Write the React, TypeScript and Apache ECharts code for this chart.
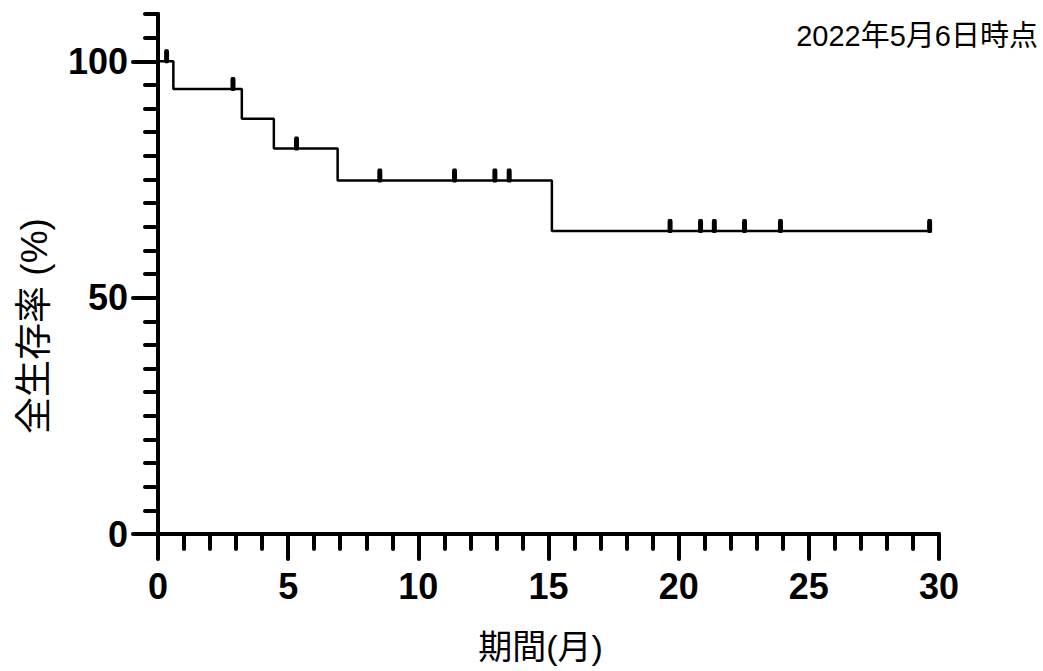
import React, { useEffect, useRef } from "react";
import * as echarts from "echarts";

// Kaplan–Meier step points: [months, survival %]
const stepTimes = [0, 0.59, 3.22, 4.45, 6.9, 15.13, 29.67];
const stepValues = [100, 94.12, 87.84, 81.57, 74.77, 64.09, 64.09];

// Censored observations
const censorTimes = [0.33, 2.88, 5.32, 8.52, 11.39, 12.94, 13.49, 19.67, 20.84, 21.37, 22.53, 23.91, 29.64];
const censorValues = [100, 94.12, 81.57, 74.77, 74.77, 74.77, 74.77, 64.09, 64.09, 64.09, 64.09, 64.09, 64.09];

const yMajorTicks = [0, 50, 100];
const xAxisTitle = "期間(月)";
const yAxisTitle = "全生存率 (%)";
const noteText = "2022年5月6日時点";

const FONT = "'Liberation Sans', Arial, 'Noto Sans CJK JP', sans-serif";

export default function App() {
  const ref = useRef<HTMLDivElement>(null);
  useEffect(() => {
    if (!ref.current) return;
    const chart = echarts.init(ref.current, undefined, { renderer: "svg" });
    const black = "#000";
    chart.setOption({
      animation: false,
      backgroundColor: "#fff",
      grid: { left: 158, right: 104, top: 14, bottom: 137, containLabel: false },
      graphic: [
        {
          type: "text",
          right: 5,
          top: 21,
          style: { text: noteText, font: `29px ${FONT}`, fill: black },
        },
        {
          type: "text",
          x: 34,
          y: 326,
          rotation: Math.PI / 2,
          style: {
            text: yAxisTitle,
            font: `37px ${FONT}`,
            fill: black,
            textAlign: "center",
            textVerticalAlign: "middle",
          },
        },
      ],
      xAxis: [
        {
          type: "value",
          min: 0,
          max: 30,
          interval: 5,
          name: xAxisTitle,
          nameLocation: "middle",
          nameGap: 96,
          nameTextStyle: { fontSize: 34, fontFamily: FONT, color: black, padding: [0, 16, 0, 0] },
          axisLine: { show: true, onZero: false, lineStyle: { color: black, width: 4, cap: "round" } },
          axisTick: { show: true, length: 25, lineStyle: { color: black, width: 4, cap: "round" } },
          minorTick: { show: true, splitNumber: 5, length: 15, lineStyle: { color: black, width: 4, cap: "round" } },
          axisLabel: { margin: 34, fontSize: 36, fontWeight: "bold", fontFamily: FONT, color: black },
          splitLine: { show: false },
          minorSplitLine: { show: false },
        },
      ],
      yAxis: [
        {
          type: "value",
          min: 0,
          max: 110,
          interval: 5,
          axisLine: { show: true, onZero: false, lineStyle: { color: black, width: 4, cap: "round" } },
          axisTick: { show: true, length: 13, lineStyle: { color: black, width: 4, cap: "round" } },
          axisLabel: { show: false },
          splitLine: { show: false },
        },
        {
          type: "value",
          min: 0,
          max: 110,
          interval: 50,
          position: "left",
          axisLine: { show: false },
          axisTick: { show: true, length: 25, customValues: yMajorTicks, lineStyle: { color: black, width: 4, cap: "round" } },
          axisLabel: {
            margin: 30,
            customValues: yMajorTicks,
            fontSize: 36,
            fontWeight: "bold",
            fontFamily: FONT,
            color: black,
            formatter: (v: number) => (yMajorTicks.includes(v) ? String(v) : ""),
          },
          splitLine: { show: false },
        },
      ],
      series: [
        {
          type: "line",
          step: "end",
          data: stepTimes.map((t, i) => [t, stepValues[i]]),
          showSymbol: false,
          symbol: "none",
          lineStyle: { color: black, width: 2.5 },
          z: 3,
        },
        {
          type: "scatter",
          data: censorTimes.map((t, i) => [t, censorValues[i]]),
          symbol: "roundRect",
          symbolSize: [5, 14],
          symbolOffset: [0, -5],
          itemStyle: { color: black, opacity: 1 },
          z: 4,
        },
      ],
    });
    return () => chart.dispose();
  }, []);
  return (
    <div
      ref={ref}
      style={{ position: "fixed", left: 0, top: 0, width: 1043, height: 671 }}
    />
  );
}
